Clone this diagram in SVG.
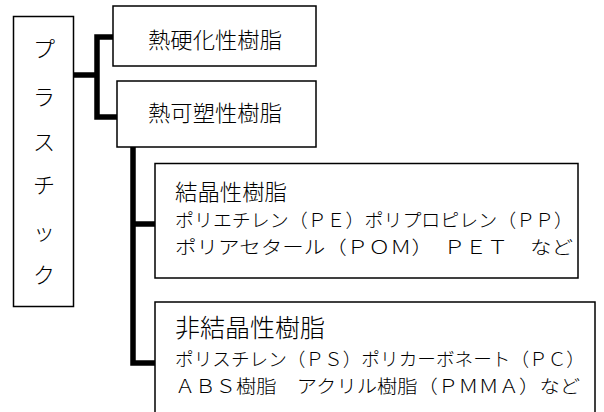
<svg xmlns="http://www.w3.org/2000/svg" width="604" height="412" viewBox="0 0 604 412">
<style>
.box{fill:#fff;stroke:#000;stroke-width:1.5}
.conn{fill:none;stroke:#000;stroke-width:5.5;stroke-linejoin:miter;stroke-linecap:butt}
text{font-family:"Noto Sans CJK JP","Noto Sans",sans-serif;fill:#000;font-weight:300}
.t{font-size:22px}
.s{font-size:18.5px}
.v{font-size:22px;text-anchor:middle}
</style>
<rect width="604" height="412" fill="#fff"/>
<g id="connectors">
<path class="conn" d="M113,37 H97 V117 H117 M73.5,75 H97"/>
<path class="conn" d="M133,147 V363 H155 M133,224 H155"/>
</g>
<g id="plastic">
<rect class="box" x="13.5" y="16.5" width="60" height="290"/>
<text class="v" x="44" y="57">プ</text>
<text class="v" x="44" y="105">ラ</text>
<text class="v" x="44" y="150">ス</text>
<text class="v" x="44" y="193">チ</text>
<text class="v" x="44" y="240">ッ</text>
<text class="v" x="44" y="283">ク</text>
</g>
<g id="thermoset">
<rect class="box" x="113" y="6" width="203" height="60"/>
<text class="t" x="148" y="48" textLength="134" lengthAdjust="spacingAndGlyphs">熱硬化性樹脂</text>
</g>
<g id="thermoplastic">
<rect class="box" x="117" y="81" width="199" height="66"/>
<text class="t" x="148" y="121" textLength="134" lengthAdjust="spacingAndGlyphs">熱可塑性樹脂</text>
</g>
<g id="crystalline">
<rect class="box" x="155" y="163.5" width="423" height="114.5"/>
<text class="t" x="175" y="200" textLength="112" lengthAdjust="spacingAndGlyphs">結晶性樹脂</text>
<text class="s" x="175" y="227" textLength="398" lengthAdjust="spacingAndGlyphs">ポリエチレン（ＰＥ）ポリプロピレン（ＰＰ）</text>
<text class="s" x="175" y="254" textLength="398" lengthAdjust="spacingAndGlyphs">ポリアセタール（ＰＯＭ）　ＰＥＴ　など</text>
</g>
<g id="amorphous">
<rect class="box" x="155" y="302" width="440" height="120"/>
<text class="t" style="font-size:25px" x="175" y="337" textLength="150" lengthAdjust="spacingAndGlyphs">非結晶性樹脂</text>
<text class="s" x="175" y="366" textLength="410" lengthAdjust="spacingAndGlyphs">ポリスチレン（ＰＳ）ポリカーボネート（ＰＣ）</text>
<text class="s" x="175" y="393" textLength="405" lengthAdjust="spacingAndGlyphs">ＡＢＳ樹脂　アクリル樹脂（ＰＭＭＡ）など</text>
</g>
</svg>
